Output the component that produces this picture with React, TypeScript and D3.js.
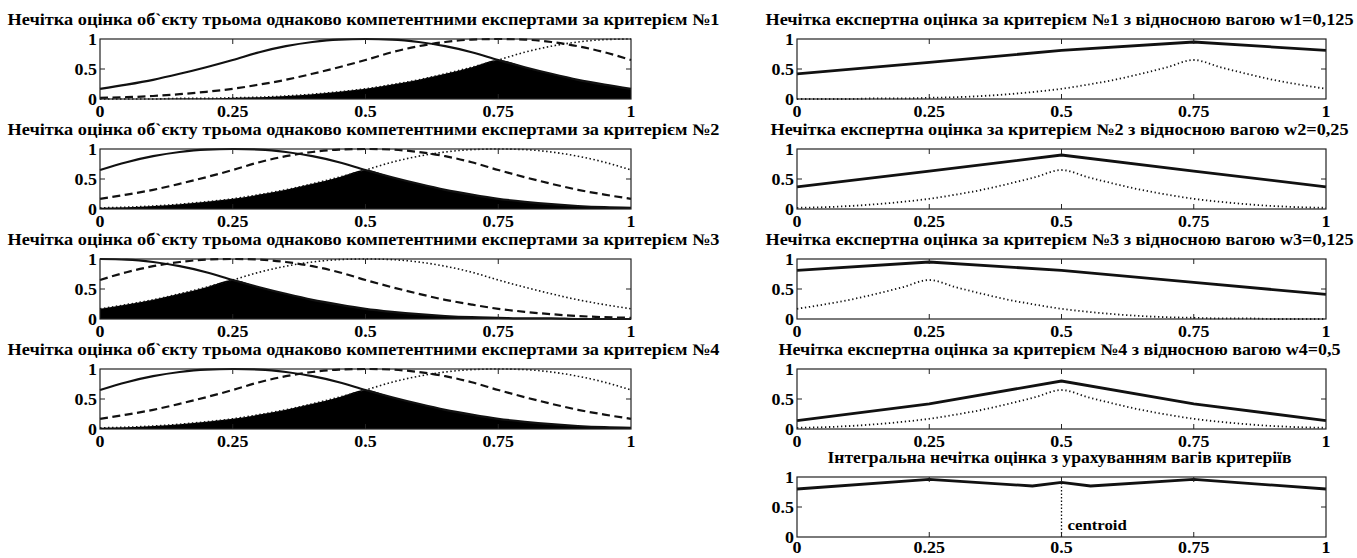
import React from 'react';
import * as d3 from 'd3';

// ---------- data ----------
const xGrid = [0, 0.05, 0.1, 0.15, 0.2, 0.25, 0.3, 0.35, 0.4, 0.45, 0.5, 0.55, 0.6, 0.65, 0.7, 0.75, 0.8, 0.85, 0.9, 0.95, 1];
const xBreaks = [0, 0.25, 0.5, 0.75, 1];
const xTicks = [0, 0.25, 0.5, 0.75, 1];
const xTickLabels = ['0', '0.25', '0.5', '0.75', '1'];
const yTicks = [0, 0.5, 1];
const yTickLabels = ['0', '0.5', '1'];

// expert membership curves (left column)
const peak0 = [1.00, 0.99, 0.95, 0.88, 0.78, 0.65, 0.53, 0.42, 0.32, 0.24, 0.17, 0.12, 0.08, 0.05, 0.03, 0.02, 0.01, 0.01, 0.00, 0.00, 0.00];
const peak25 = [0.65, 0.78, 0.88, 0.95, 0.99, 1.00, 0.99, 0.95, 0.88, 0.78, 0.65, 0.53, 0.42, 0.32, 0.24, 0.17, 0.12, 0.08, 0.05, 0.03, 0.02];
const peak50 = [0.17, 0.24, 0.32, 0.42, 0.53, 0.65, 0.78, 0.88, 0.95, 0.99, 1.00, 0.99, 0.95, 0.88, 0.78, 0.65, 0.53, 0.42, 0.32, 0.24, 0.17];
const peak75 = [0.02, 0.03, 0.05, 0.08, 0.12, 0.17, 0.24, 0.32, 0.42, 0.53, 0.65, 0.78, 0.88, 0.95, 0.99, 1.00, 0.99, 0.95, 0.88, 0.78, 0.65];
const peak100 = [0.00, 0.00, 0.00, 0.01, 0.01, 0.02, 0.03, 0.05, 0.08, 0.12, 0.17, 0.24, 0.32, 0.42, 0.53, 0.65, 0.78, 0.88, 0.95, 0.99, 1.00];

// intersections (black areas)
const inter1 = [0.00, 0.00, 0.00, 0.01, 0.01, 0.02, 0.03, 0.05, 0.08, 0.12, 0.17, 0.24, 0.32, 0.42, 0.53, 0.65, 0.53, 0.42, 0.32, 0.24, 0.17];
const inter2 = [0.02, 0.03, 0.05, 0.08, 0.12, 0.17, 0.24, 0.32, 0.42, 0.53, 0.65, 0.53, 0.42, 0.32, 0.24, 0.17, 0.12, 0.08, 0.05, 0.03, 0.02];
const inter3 = [0.17, 0.24, 0.32, 0.42, 0.53, 0.65, 0.53, 0.42, 0.32, 0.24, 0.17, 0.12, 0.08, 0.05, 0.03, 0.02, 0.01, 0.01, 0.00, 0.00, 0.00];
const inter4 = [0.02, 0.03, 0.05, 0.08, 0.12, 0.17, 0.24, 0.32, 0.42, 0.53, 0.65, 0.53, 0.42, 0.32, 0.24, 0.17, 0.12, 0.08, 0.05, 0.03, 0.02];

// weighted estimates (right column)
const weighted1 = [0.42, 0.61, 0.81, 0.95, 0.81];
const weighted2 = [0.37, 0.63, 0.90, 0.63, 0.37];
const weighted3 = [0.81, 0.95, 0.81, 0.61, 0.41];
const weighted4 = [0.14, 0.42, 0.80, 0.42, 0.14];
const integralX = [0, 0.25, 0.445, 0.5, 0.555, 0.75, 1];
const integralY = [0.80, 0.96, 0.85, 0.91, 0.85, 0.96, 0.80];
const centroidX = 0.5;
const centroidY = 0.91;

const leftTitles = [
  'Нечітка оцінка об`єкту трьома однаково компетентними експертами за критерієм №1',
  'Нечітка оцінка об`єкту трьома однаково компетентними експертами за критерієм №2',
  'Нечітка оцінка об`єкту трьома однаково компетентними експертами за критерієм №3',
  'Нечітка оцінка об`єкту трьома однаково компетентними експертами за критерієм №4',
];
const rightTitles = [
  'Нечітка експертна оцінка за критерієм №1 з відносною вагою w1=0,125',
  'Нечітка експертна оцінка за критерієм №2 з відносною вагою w2=0,25',
  'Нечітка експертна оцінка за критерієм №3 з відносною вагою w3=0,125',
  'Нечітка експертна оцінка за критерієм №4 з відносною вагою w4=0,5',
  'Інтегральна нечітка оцінка з урахуванням вагів критеріїв',
];

const leftSets = [
  { solid: peak50, dashed: peak75, dotted: peak100, fill: inter1 },
  { solid: peak25, dashed: peak50, dotted: peak75, fill: inter2 },
  { solid: peak0, dashed: peak25, dotted: peak50, fill: inter3 },
  { solid: peak25, dashed: peak50, dotted: peak75, fill: inter4 },
];
const rightSets = [
  { solid: weighted1, dotted: inter1 },
  { solid: weighted2, dotted: inter2 },
  { solid: weighted3, dotted: inter3 },
  { solid: weighted4, dotted: inter4 },
];

// ---------- layout ----------
const W = 1357;
const H = 558;
const FONT = "'Liberation Serif', 'Times New Roman', Times, serif";
const LEFT = { x0: 100, x1: 631, titleLen: 712 };
const RIGHT = { x0: 797, x1: 1326 };
const rightTitleLens = [588, 578, 588, 562, 464];
const ROW_TOPS = [39, 149, 259, 369, 477];
const PLOT_H = 60;
const STRETCH = 1.12;

type AxesProps = { x0: number; x1: number; top: number; children?: React.ReactNode; title: string; titleLen: number; labelDy?: number };

function Axes({ x0, x1, top, title, titleLen, children, labelDy = 18 }: AxesProps) {
  const xs = d3.scaleLinear().domain([0, 1]).range([x0, x1]);
  const ys = d3.scaleLinear().domain([0, 1]).range([top + PLOT_H, top]);
  const bottom = top + PLOT_H;
  const tl = 5;
  return (
    <g>
      <text x={(x0 + x1) / 2 - 2} y={top - 14} textAnchor="middle" style={{ fontFamily: FONT }} fontWeight="bold" fontSize={16}
        textLength={titleLen} lengthAdjust="spacingAndGlyphs">{title}</text>
      {children}
      <rect x={x0} y={top} width={x1 - x0} height={PLOT_H} fill="none" stroke="#222" strokeWidth={1.2} />
      {xTicks.slice(1, -1).map((t) => (
        <g key={'xt' + t}>
          <line x1={xs(t)} x2={xs(t)} y1={bottom} y2={bottom - tl} stroke="#222" strokeWidth={1} />
          <line x1={xs(t)} x2={xs(t)} y1={top} y2={top + tl} stroke="#222" strokeWidth={1} />
        </g>
      ))}
      {yTicks.slice(1, -1).map((t) => (
        <g key={'yt' + t}>
          <line x1={x0} x2={x0 + tl} y1={ys(t)} y2={ys(t)} stroke="#222" strokeWidth={1} />
          <line x1={x1} x2={x1 - tl} y1={ys(t)} y2={ys(t)} stroke="#222" strokeWidth={1} />
        </g>
      ))}
      {xTicks.map((t, i) => (
        <text key={'xl' + t} transform={`translate(${xs(t)},${bottom + labelDy}) scale(${STRETCH},1)`} textAnchor="middle"
          style={{ fontFamily: FONT }} fontWeight="bold" fontSize={16}>{xTickLabels[i]}</text>
      ))}
      {yTicks.map((t, i) => (
        <text key={'yl' + t} transform={`translate(${x0 - 3},${ys(t) + 6}) scale(${STRETCH},1)`} textAnchor="end"
          style={{ fontFamily: FONT }} fontWeight="bold" fontSize={16}>{yTickLabels[i]}</text>
      ))}
    </g>
  );
}

export default function App() {
  const leftPanels = leftSets.map((s, i) => {
    const top = ROW_TOPS[i];
    const xs = d3.scaleLinear().domain([0, 1]).range([LEFT.x0, LEFT.x1]);
    const ys = d3.scaleLinear().domain([0, 1]).range([top + PLOT_H, top]);
    const line = d3.line<number>().x((_, j) => xs(xGrid[j])).y((v) => ys(v)).curve(d3.curveMonotoneX);
    const area = d3.area<number>().x((_, j) => xs(xGrid[j])).y0(ys(0)).y1((v) => ys(v)).curve(d3.curveMonotoneX);
    return (
      <Axes key={'L' + i} x0={LEFT.x0} x1={LEFT.x1} top={top} title={leftTitles[i]} titleLen={LEFT.titleLen}>
        <path d={area(s.fill) || ''} fill="#000" />
        <path d={line(s.dotted) || ''} fill="none" stroke="#111" strokeWidth={1.6} strokeDasharray="1.5,2.5" />
        <path d={line(s.dashed) || ''} fill="none" stroke="#111" strokeWidth={2.2} strokeDasharray="8,4.5" />
        <path d={line(s.solid) || ''} fill="none" stroke="#111" strokeWidth={2.2} />
      </Axes>
    );
  });

  const rightPanels = rightSets.map((s, i) => {
    const top = ROW_TOPS[i];
    const xs = d3.scaleLinear().domain([0, 1]).range([RIGHT.x0, RIGHT.x1]);
    const ys = d3.scaleLinear().domain([0, 1]).range([top + PLOT_H, top]);
    const curve = d3.line<number>().x((_, j) => xs(xGrid[j])).y((v) => ys(v)).curve(d3.curveMonotoneX);
    const poly = d3.line<number>().x((_, j) => xs(xBreaks[j])).y((v) => ys(v));
    return (
      <Axes key={'R' + i} x0={RIGHT.x0} x1={RIGHT.x1} top={top} title={rightTitles[i]} titleLen={rightTitleLens[i]}>
        <path d={curve(s.dotted) || ''} fill="none" stroke="#111" strokeWidth={1.8} strokeDasharray="1.3,2.7" />
        <path d={poly(s.solid) || ''} fill="none" stroke="#111" strokeWidth={2.8} />
      </Axes>
    );
  });

  const top5 = ROW_TOPS[4];
  const xs5 = d3.scaleLinear().domain([0, 1]).range([RIGHT.x0, RIGHT.x1]);
  const ys5 = d3.scaleLinear().domain([0, 1]).range([top5 + PLOT_H, top5]);
  const line5 = d3.line<number>().x((_, j) => xs5(integralX[j])).y((v) => ys5(v));

  return (
    <svg width={W} height={H} style={{ position: 'absolute', left: 0, top: 0, background: '#fff' }}>
      <rect x={0} y={0} width={W} height={H} fill="#fff" />
      {leftPanels}
      {rightPanels}
      <Axes x0={RIGHT.x0} x1={RIGHT.x1} top={top5} title={rightTitles[4]} titleLen={rightTitleLens[4]} labelDy={16}>
        <line x1={xs5(centroidX)} x2={xs5(centroidX)} y1={ys5(0)} y2={ys5(centroidY)} stroke="#111" strokeWidth={1.3} strokeDasharray="1.5,2" />
        <path d={line5(integralY) || ''} fill="none" stroke="#111" strokeWidth={2.8} />
        <text transform={`translate(${xs5(centroidX) + 6},${ys5(0.12)}) scale(${STRETCH},1)`} style={{ fontFamily: FONT }} fontWeight="bold" fontSize={15}>centroid</text>
      </Axes>
    </svg>
  );
}
